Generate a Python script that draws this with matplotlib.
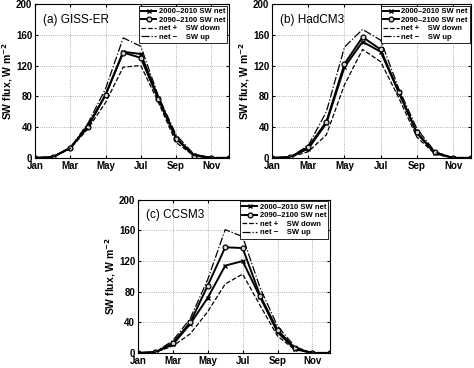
import numpy as np
import matplotlib
matplotlib.use("Agg")
import matplotlib.pyplot as plt

# ===== Data =====
months = np.arange(1, 13)
tick_months = [1, 3, 5, 7, 9, 11]
tick_labels = ["Jan", "Mar", "May", "Jul", "Sep", "Nov"]

# (a) GISS-ER
giss_net_2000 = [0, 1, 13, 42, 82, 138, 135, 78, 26, 4, 0, 0]
giss_net_2090 = [0, 1, 13, 40, 82, 137, 130, 76, 25, 3, 0, 0]
giss_down = [0, 1, 12, 38, 72, 118, 120, 72, 20, 3, 0, 0]
giss_up = [0, 1, 13, 45, 90, 156, 145, 80, 30, 5, 0, 0]

# (b) HadCM3
had_net_2000 = [0, 1, 12, 45, 118, 151, 138, 85, 32, 6, 0, 0]
had_net_2090 = [0, 1, 14, 47, 122, 157, 141, 86, 33, 7, 0, 0]
had_down = [0, 1, 8, 30, 95, 141, 125, 78, 27, 5, 0, 0]
had_up = [0, 1, 16, 60, 144, 167, 153, 90, 38, 8, 0, 0]

# (c) CCSM3
ccsm_net_2000 = [0, 1, 11, 38, 72, 114, 120, 73, 27, 5, 0, 0]
ccsm_net_2090 = [0, 1, 13, 40, 88, 138, 137, 75, 30, 6, 0, 0]
ccsm_down = [0, 1, 9, 25, 54, 90, 103, 62, 22, 4, 0, 0]
ccsm_up = [0, 1, 16, 45, 96, 161, 152, 85, 35, 8, 0, 0]

panels = [
    ("(a) GISS-ER", giss_net_2000, giss_net_2090, giss_down, giss_up,
     [0.074, 0.571, 0.409, 0.418]),
    ("(b) HadCM3", had_net_2000, had_net_2090, had_down, had_up,
     [0.574, 0.571, 0.420, 0.418]),
    ("(c) CCSM3", ccsm_net_2000, ccsm_net_2090, ccsm_down, ccsm_up,
     [0.291, 0.041, 0.405, 0.416]),
]

plt.rcParams["font.family"] = ["Liberation Sans", "DejaVu Sans"]

fig = plt.figure(figsize=(4.74, 3.68), dpi=100)

for title, net0, net1, down, up, pos in panels:
    ax = fig.add_axes(pos)
    ax.plot(months, net0, color="k", lw=1.4, marker="x", ms=3.5, mew=1.0,
            label="2000\u20132010 SW net")
    ax.plot(months, net1, color="k", lw=1.4, marker="o", ms=3.5, mew=0.9,
            mfc="lightgray", label="2090\u20132100 SW net")
    ax.plot(months, down, color="k", lw=0.9, ls="--",
            label="net +    SW down")
    ax.plot(months, up, color="k", lw=0.9, ls="-.",
            label="net \u2212    SW up")

    ax.set_xlim(1, 12)
    ax.set_ylim(0, 200)
    ax.set_xticks(tick_months)
    ax.set_xticklabels(tick_labels)
    ax.set_yticks(np.arange(0, 201, 40))
    ax.grid(True, ls=":", color="0.6", lw=0.6)
    ax.tick_params(direction="in", length=2.5, labelsize=7, pad=2,
                   top=True, right=True)
    for lab in ax.get_xticklabels() + ax.get_yticklabels():
        lab.set_fontweight("bold")
    ax.set_ylabel("SW flux, W m$^{\\mathbf{-2}}$", fontsize=7.5,
                  fontweight="bold", labelpad=1)
    ax.text(0.04, 0.88, title, transform=ax.transAxes, fontsize=8.5)
    leg = ax.legend(loc="upper right", fontsize=5.5, handlelength=2.0,
                    handletextpad=0.3, borderpad=0.3, labelspacing=0.15,
                    fancybox=False, framealpha=1, borderaxespad=0.2)
    leg.get_frame().set_edgecolor("k")
    leg.get_frame().set_linewidth(0.6)
    for t in leg.get_texts():
        t.set_fontweight("bold")

fig.savefig("out.png", dpi=100)
